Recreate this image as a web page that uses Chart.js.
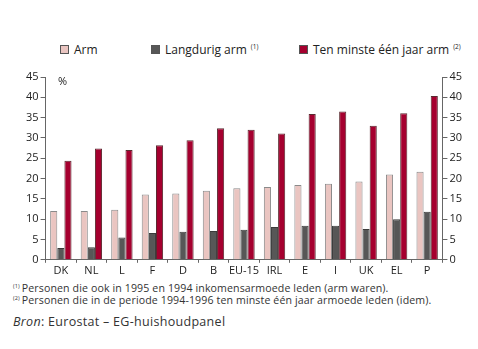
<!DOCTYPE html>
<html>
<head>
<meta charset="utf-8">
<script src="https://cdn.jsdelivr.net/npm/chart.js@4"></script>
<style>
  body { margin: 0; background: #fff; font-family: "Open Sans", "Noto Sans", sans-serif; color: #222; }
  #wrap { position: relative; width: 478px; height: 349px; overflow: hidden; }
  #chartBox { position: absolute; left: 0; top: 64px; width: 478px; height: 214px; }
  .legend { position: absolute; top: 41px; font-size: 12px; white-space: nowrap; }
  .legend i { display: inline-block; width: 7px; height: 7px; border: 1px solid #555; margin-right: 5px; vertical-align: 0px; }
  .legend sup { font-size: 6.5px; vertical-align: 5px; margin-left: 4px; }
  .unit { position: absolute; left: 58px; top: 73px; font-size: 11px; }
  .note { position: absolute; left: 13px; font-size: 10.6px; color: #333; white-space: nowrap; letter-spacing: 0.12px; }
  .note sup { font-size: 5.5px; vertical-align: 4px; margin-right: 2px; }
  .src { position: absolute; left: 13px; top: 313px; font-size: 12.5px; color: #333; letter-spacing: 0.3px; }
</style>
</head>
<body>
<div id="wrap">
  <div class="legend" style="left:60px"><i style="background:#eac5c1"></i>Arm</div>
  <div class="legend" style="left:151px"><i style="background:#575757"></i>Langdurig arm<sup>(1)</sup></div>
  <div class="legend" style="left:299px"><i style="background:#a5002f"></i>Ten minste één jaar arm<sup>(2)</sup></div>
  <div id="chartBox"><canvas id="c"></canvas></div>
  <div class="unit">%</div>
  <div class="note" style="top:281px"><sup>(1)</sup>Personen die ook in 1995 en 1994 inkomensarmoede leden (arm waren).</div>
  <div class="note" style="top:293px"><sup>(2)</sup>Personen die in de periode 1994-1996 ten minste één jaar armoede leden (idem).</div>
  <div class="src"><em>Bron</em>: Eurostat – EG-huishoudpanel</div>
</div>
<script>
const countries = ['DK', 'NL', 'L', 'F', 'D', 'B', 'EU-15', 'IRL', 'E', 'I', 'UK', 'EL', 'P'];
const arm = [12.0, 12.0, 12.3, 16.1, 16.3, 17.0, 17.6, 17.9, 18.4, 18.7, 19.3, 21.0, 21.7];
const langdurig = [2.9, 3.1, 5.5, 6.6, 6.9, 7.1, 7.4, 8.1, 8.4, 8.4, 7.6, 10.0, 11.8];
const tenMinste = [24.4, 27.4, 27.0, 28.2, 29.4, 32.4, 32.0, 31.1, 35.9, 36.5, 33.0, 36.1, 40.3];
const yTicks = [0, 5, 10, 15, 20, 25, 30, 35, 40, 45];

const tickFont = { family: '"Open Sans", "Noto Sans", sans-serif', size: 11 };

function valueAxis(position) {
    return {
        position,
        min: 0,
        max: 45,
        afterBuildTicks: axis => { axis.ticks = yTicks.map(v => ({ value: v })); },
        border: { display: true, color: '#666', width: 1 },
        grid: { drawOnChartArea: false, drawTicks: true, tickLength: 5, color: '#666' },
        ticks: { color: '#222', font: tickFont, padding: 2 }
    };
}

new Chart(document.getElementById('c'), {
    type: 'bar',
    data: {
        labels: countries,
        datasets: [
            { label: 'Arm', data: arm, backgroundColor: '#eac5c1', borderColor: '#8a8a8a', borderWidth: 1 },
            { label: 'Langdurig arm', data: langdurig, backgroundColor: '#575757', borderColor: '#3a3a3a', borderWidth: 1 },
            { label: 'Ten minste één jaar arm', data: tenMinste, backgroundColor: '#a5002f', borderColor: '#5a2a30', borderWidth: 1 }
        ]
    },
    options: {
        responsive: true,
        maintainAspectRatio: false,
        animation: false,
        layout: { padding: { left: 24, right: 14, top: 13, bottom: 0 } },
        datasets: { bar: { barPercentage: 1, categoryPercentage: 0.7 } },
        plugins: { legend: { display: false }, tooltip: { enabled: false } },
        scales: {
            x: {
                border: { display: true, color: '#666', width: 1 },
                grid: { drawOnChartArea: false, drawTicks: true, tickLength: 3, color: '#666', offset: true },
                ticks: { color: '#222', font: tickFont, padding: 1, maxRotation: 0, autoSkip: false }
            },
            y: valueAxis('left'),
            y2: valueAxis('right')
        }
    }
});
</script>
</body>
</html>
